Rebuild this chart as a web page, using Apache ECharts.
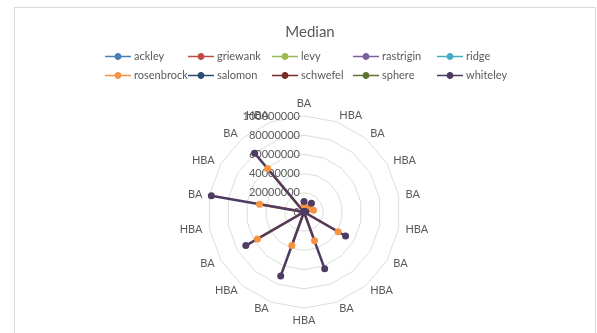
<!DOCTYPE html>
<html>
<head>
<meta charset="utf-8">
<script src="https://cdn.jsdelivr.net/npm/echarts@6/dist/echarts.min.js"></script>
<style>
  html, body { margin: 0; padding: 0; background: #fff; }
  #chart { position: absolute; left: 0; top: 0; width: 597px; height: 333px; }
  #frame { position: absolute; left: 14px; top: 7px; width: 582px; height: 340px;
           border: 1px solid #d9d9d9; box-sizing: border-box; pointer-events: none; }
</style>
</head>
<body>
<div id="chart"></div>
<div id="frame"></div>
<script>
// Categories, listed clockwise from the top spoke
const categories = ['BA','HBA','BA','HBA','BA','HBA','BA','HBA','BA','HBA',
                    'BA','HBA','BA','HBA','BA','HBA','BA','HBA'];

// Median values per function (same clockwise order as categories)
const ackley     = [0,0,0,0,0,0,0,0,0,0,0,0,0,0,0,0,0,0];
const griewank   = [0,0,0,0,0,0,0,0,0,0,0,0,0,0,0,0,0,0];
const levy       = [0,0,0,0,0,0,0,0,0,0,0,0,0,0,0,0,0,0];
const rastrigin  = [0,0,0,0,0,0,0,0,0,0,0,0,0,0,0,0,0,0];
const ridge      = [0,0,0,0,0,0,0,0,0,0,0,0,0,0,0,0,0,0];
const rosenbrock = [7000000,0,8000000,0,10000000,0,41000000,0,32000000,0,
                    37000000,0,56000000,0,47000000,0,59000000,0];
const salomon    = [0,0,0,0,0,0,0,0,0,0,0,0,0,0,0,0,0,0];
const schwefel   = [0,0,0,0,0,0,0,0,0,0,0,0,0,0,0,0,0,0];
const sphere     = [0,0,0,0,0,0,0,0,0,0,0,0,0,0,0,0,0,0];
const whiteley   = [11000000,0,12000000,0,2000000,0,50000000,0,63000000,0,
                    71000000,0,70000000,0,98000000,0,80000000,0];

// Value axis ticks
const axisMin = 0;
const axisMax = 100000000;
const axisSplits = 5;

const seriesNames  = ['ackley','griewank','levy','rastrigin','ridge',
                      'rosenbrock','salomon','schwefel','sphere','whiteley'];
const seriesValues = [ackley, griewank, levy, rastrigin, ridge,
                      rosenbrock, salomon, schwefel, sphere, whiteley];
const seriesColors = ['#4a7ebb','#be4b48','#98b954','#7d60a0','#46aac5',
                      '#f69240','#2c4d75','#772c2a','#5f7530','#4d3b62'];

// ECharts lays radar spokes out counter-clockwise; reorder to run clockwise
function clockwise(arr) {
  const n = arr.length;
  return arr.map((_, k) => arr[(n - k) % n]);
}

const FONT = 'Lato, "Open Sans", sans-serif';
const GREY = '#595959';

// Legend key: a short line with a round marker in the middle
const LINE_MARKER_ICON =
  'path://M0,3.2H9.59A3.5,3.5 0 0 1 16.41,3.2H26V4.8H16.41A3.5,3.5 0 0 1 9.59,4.8H0Z';

const indicator = clockwise(categories).map((name, i) => {
  const ind = { name: name, min: axisMin, max: axisMax };
  if (i === 0) ind.axisLabel = { show: true };
  return ind;
});

// Five legend columns of two rows each
const legendCols = [[0,5],[1,6],[2,7],[3,8],[4,9]];
const legendLeft = [105, 188, 272, 353, 437];
const legends = legendCols.map((col, c) => ({
  orient: 'vertical',
  left: legendLeft[c],
  top: 51,
  padding: 0,
  itemGap: 8,
  itemWidth: 26,
  itemHeight: 8,
  data: col.map(i => ({ name: seriesNames[i], icon: LINE_MARKER_ICON })),
  textStyle: { color: GREY, fontFamily: FONT, fontSize: 11, padding: [0,0,0,-2] }
}));

const chart = echarts.init(document.getElementById('chart'), null, { renderer: 'canvas' });
chart.setOption({
  animation: false,
  backgroundColor: '#fff',
  title: {
    text: 'Median',
    left: 305, top: 20, textAlign: 'center',
    textStyle: { color: GREY, fontFamily: FONT, fontSize: 15, fontWeight: 'normal' }
  },
  legend: legends,
  radar: {
    center: [304, 212],
    radius: 96,
    startAngle: 90,
    shape: 'polygon',
    splitNumber: axisSplits,
    indicator: indicator,
    axisName: { color: GREY, fontFamily: FONT, fontSize: 11 },
    nameGap: 7,
    axisLine: { show: false },
    axisTick: { show: false },
    axisLabel: {
      show: false, color: GREY, fontFamily: FONT, fontSize: 11, margin: 4,
      showMinLabel: true, showMaxLabel: true,
      formatter: v => String(v)
    },
    splitLine: { lineStyle: { color: '#dddddd', width: 1 } },
    splitArea: { show: false }
  },
  series: [{
    type: 'radar',
    symbol: 'circle',
    symbolSize: 7,
    data: seriesNames.map((name, i) => ({
      name: name,
      value: clockwise(seriesValues[i]),
      lineStyle: { color: seriesColors[i], width: 2.5 },
      itemStyle: { color: seriesColors[i] }
    }))
  }]
});
</script>
</body>
</html>
